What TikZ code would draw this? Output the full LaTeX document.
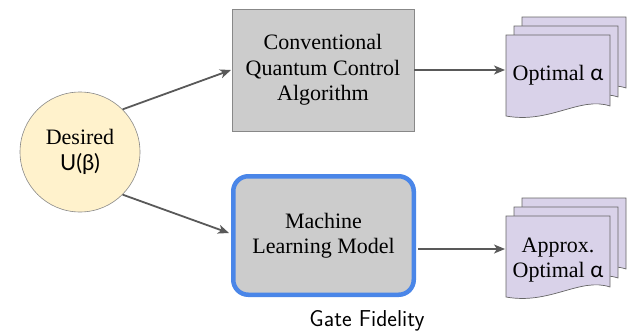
\documentclass[tikz,border=0pt]{standalone}
\usepackage{fontspec}
\setmainfont{Liberation Serif}
\newfontfamily\gk{Lato}
\usetikzlibrary{arrows.meta}
\definecolor{circfill}{HTML}{FFF2CC}
\definecolor{boxfill}{HTML}{CCCCCC}
\definecolor{boxline}{HTML}{888888}
\definecolor{mlblue}{HTML}{4A86E8}
\definecolor{docfill}{HTML}{D9D2E9}
\definecolor{docline}{HTML}{666666}
\definecolor{arrowcol}{HTML}{595959}
\tikzset{
  txt/.style={font=\fontsize{22}{25.5}\selectfont, align=center, text=black},
  circnode/.style={circle, draw=boxline, line width=0.6pt, fill=circfill, minimum size=120pt, inner sep=0pt, txt},
  convbox/.style={rectangle, draw=boxline, line width=0.8pt, fill=boxfill, minimum width=182pt, minimum height=122pt, inner sep=0pt, txt},
  mlbox/.style={rectangle, rounded corners=15pt, draw=mlblue, line width=4.5pt, fill=boxfill, minimum width=180.5pt, minimum height=118.5pt, inner sep=0pt, txt},
  conn/.style={draw=arrowcol, line width=1.8pt, -{Stealth[length=11pt,width=9pt,inset=3pt]}},
  page/.style={fill=docfill, draw=docline, line width=0.7pt},
}
\newcommand{\docpage}[2]{%
  \path[page] (#1+506,#2+35) -- (#1+610,#2+35) -- (#1+610,#2+106)
    .. controls (#1+580,#2+96) and (#1+550,#2+124) .. (#1+506,#2+116) -- cycle;}
\begin{document}
\begin{tikzpicture}[x=1pt,y=-1pt]
\useasboundingbox (0,0) rectangle (629,335);
% documents
\docpage{16}{-18}
\docpage{8}{-9}
\docpage{0}{0}
\docpage{16}{163}
\docpage{8}{172}
\docpage{0}{181}
\node[txt] (d1) at (558,75) {Optimal {\gk α}};
\node[txt] (d2) at (558,260) {Approx.\\Optimal {\gk α}};
\coordinate (d1in) at (505,70);
\coordinate (d2in) at (505,249);
% nodes
\node[circnode] (c) at (80,152) {Desired\\[1pt]{\gk U(β)}};
\node[convbox] (b1) at (323,70) {Conventional\\Quantum Control\\Algorithm};
\node[mlbox] (b2) at (323.5,235.5) {Machine\\Learning Model};
\node[font=\sffamily\fontsize{23}{26}\selectfont] (gf) at (367,321) {Gate Fidelity};
\coordinate (b1in) at (231,70);
\coordinate (b2in) at (229,233);
\coordinate (b1out) at (414,70);
\coordinate (b2out) at (418,249);
% connectors
\draw[conn] (c.45) -- (b1in);
\draw[conn] (c.-45) -- (b2in);
\draw[conn] (b1out) -- (d1in);
\draw[conn] (b2out) -- (d2in);
\end{tikzpicture}
\end{document}
